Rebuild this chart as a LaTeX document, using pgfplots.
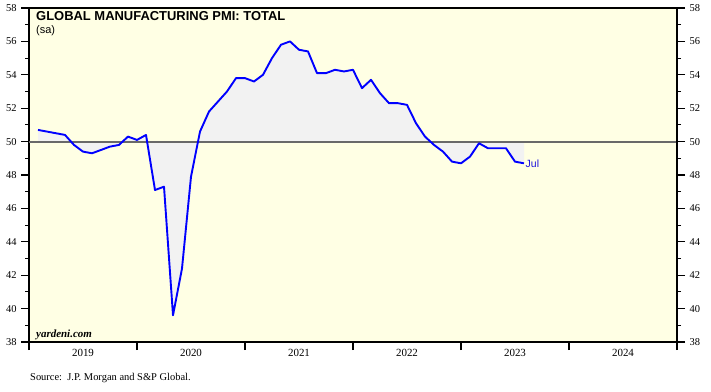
\documentclass[border=0pt]{standalone}
\usepackage{pgfplots}
\pgfplotsset{compat=1.18}
\usepackage{pgfplotstable}
\usepgfplotslibrary{fillbetween}
\usepackage{fontspec}
\setmainfont{Liberation Serif}
\newfontfamily\arial{Liberation Sans}
\definecolor{bgyellow}{RGB}{255,255,228}
\definecolor{fillgray}{RGB}{242,242,242}
\definecolor{midgray}{RGB}{105,105,105}
\definecolor{pmiblue}{RGB}{0,0,255}
\definecolor{julblue}{RGB}{30,20,220}

% x = months since start of 2019 (value plotted at month end)
\pgfplotstableread{
x y
1 50.7
2 50.6
3 50.5
4 50.4
5 49.8
6 49.4
7 49.3
8 49.5
9 49.7
10 49.8
11 50.3
12 50.1
13 50.4
14 47.1
15 47.3
16 39.6
17 42.4
18 47.9
19 50.6
20 51.8
21 52.4
22 53.0
23 53.8
24 53.8
25 53.6
26 54.0
27 55.0
28 55.8
29 56.0
30 55.5
31 55.4
32 54.1
33 54.1
34 54.3
35 54.2
36 54.3
37 53.2
38 53.7
39 52.9
40 52.3
41 52.3
42 52.2
43 51.1
44 50.3
45 49.8
46 49.4
47 48.8
48 48.7
49 49.1
50 49.9
51 49.6
52 49.6
53 49.6
54 48.8
55 48.7
}\pmidata

\begin{document}
\begin{tikzpicture}
\begin{axis}[
  name=ax,
  scale only axis,
  width=648bp, height=334bp,
  xmin=0, xmax=72, ymin=38, ymax=58,
  axis background/.style={fill=bgyellow},
  axis line style={black, line width=1.4bp},
  tick style={black, line width=1.1bp},
  tick align=outside,
  major tick length=8bp,
  minor tick length=4bp,
  /pgf/number format/assume math mode=true,
  ytick={38,40,...,58},
  minor ytick={39,41,...,57},
  ytick pos=left,
  yticklabel style={font=\fontsize{10.5}{10.5}\selectfont, xshift=-1bp},
  xtick={0,12,...,72},
  xticklabels={,,,,,,,},
  xtick pos=left,
  extra x ticks={6,18,30,42,54,66},
  extra x tick labels={2019,2020,2021,2022,2023,2024},
  extra x tick style={major tick length=0pt, xticklabel style={font=\fontsize{11}{11}\selectfont, yshift=-4bp}},
  clip=false,
]
\addplot[draw=none, name path=pmi] table[x=x,y=y] {\pmidata};
\path[name path=base] (axis cs:1,50) -- (axis cs:55,50);
\addplot[fillgray, draw=none] fill between[of=pmi and base];
\addplot[midgray, line width=1.8bp] coordinates {(0,50) (72,50)};
\addplot[pmiblue, line width=1.9bp, line join=round] table[x=x,y=y] {\pmidata};
\node[anchor=west, inner sep=1.5bp, text=julblue, font=\arial\fontsize{10.5}{10.5}\selectfont] at (axis cs:55,48.7) {Jul};
\end{axis}
\begin{axis}[
  scale only axis,
  width=648bp, height=334bp,
  xmin=0, xmax=72, ymin=38, ymax=58,
  axis x line=none,
  axis y line*=right,
  axis line style={black, line width=1.4bp, -},
  tick style={black, line width=1.1bp},
  tick align=outside,
  major tick length=8bp,
  minor tick length=4bp,
  /pgf/number format/assume math mode=true,
  ytick={38,40,...,58},
  minor ytick={39,41,...,57},
  yticklabel style={font=\fontsize{10.5}{10.5}\selectfont, xshift=1bp},
]
\addplot[draw=none] coordinates {(0,50)};
\end{axis}
\node[anchor=base west, inner sep=0pt, font=\arial\bfseries\fontsize{13}{13}\selectfont] at ([shift={(7bp,-13bp)}]ax.north west) {GLOBAL MANUFACTURING PMI: TOTAL};
\node[anchor=base west, inner sep=0pt, font=\arial\fontsize{11}{11}\selectfont] at ([shift={(7bp,-25.5bp)}]ax.north west) {(sa)};
\node[anchor=base west, inner sep=0pt, font=\bfseries\itshape\fontsize{11}{11}\selectfont] at ([shift={(7bp,5bp)}]ax.south west) {yardeni.com};
\node[anchor=base west, inner sep=0pt, font=\fontsize{10.5}{10.5}\selectfont] at ([shift={(1bp,-38.5bp)}]ax.south west) {Source:\ \ J.P. Morgan and S\&P Global.};
\pgfresetboundingbox
\path ([shift={(-29bp,-49bp)}]ax.south west) rectangle ([shift={(34bp,8bp)}]ax.north east);
\end{tikzpicture}
\end{document}
